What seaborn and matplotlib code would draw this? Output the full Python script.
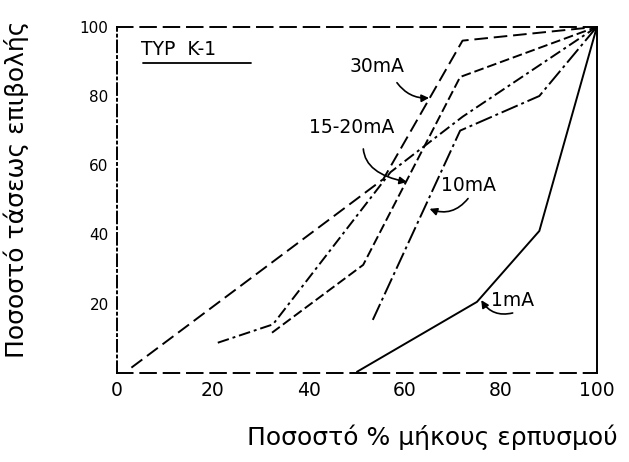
import matplotlib
matplotlib.use("Agg")
import matplotlib.pyplot as plt
import seaborn as sns
import pandas as pd

# percentage of creepage length (x) vs percentage of applied voltage (y)
x_30ma = [3, 55.5, 72, 100]
y_30ma = [1.5, 56, 96, 100]
x_15ma = [21, 32.5, 57, 72, 100]
y_15ma = [8.7, 14, 58, 74, 100]
x_20ma = [32.3, 51.3, 71.5, 100]
y_20ma = [11.6, 31.2, 85.5, 100]
x_10ma = [53.3, 71.5, 88, 100]
y_10ma = [15.3, 70, 80, 100]
x_1ma = [50, 75, 88, 100]
y_1ma = [0.3, 20.5, 41, 100]

curves = {
    "30mA": (x_30ma, y_30ma),
    "15mA": (x_15ma, y_15ma),
    "20mA": (x_20ma, y_20ma),
    "10mA": (x_10ma, y_10ma),
    "1mA": (x_1ma, y_1ma),
}

x_ticks = [0, 20, 40, 60, 80, 100]
y_ticks = [20, 40, 60, 80, 100]

rows = []
for name, (xs, ys) in curves.items():
    for i, (xv, yv) in enumerate(zip(xs, ys)):
        rows.append({"curve": name, "order": i, "x": xv, "y": yv})
df = pd.DataFrame(rows)

sns.set_style("white")
plt.rcParams["font.family"] = ["DejaVu Sans"]
plt.rcParams["text.color"] = "black"
plt.rcParams["xtick.color"] = "black"
plt.rcParams["ytick.color"] = "black"

fig = plt.figure(figsize=(6.29, 4.62), dpi=100)
ax = fig.add_axes([0.186, 0.193, 0.763, 0.749])

dashes = {
    "30mA": (7, 3),
    "15mA": (6, 2, 1.5, 2),
    "20mA": (5, 2),
    "10mA": (9, 2, 1.5, 2),
    "1mA": "",
}
sns.lineplot(data=df, x="x", y="y", hue="curve", style="curve",
             palette=["black"] * 5, dashes=dashes, sort=False,
             estimator=None, legend=False, linewidth=1.4, ax=ax)

ax.set_xlim(0, 100)
ax.set_ylim(0, 100)
ax.set_xticks(x_ticks)
ax.set_xticklabels([str(v) for v in x_ticks], fontsize=13.5)
ax.set_yticks(y_ticks)
ax.set_yticklabels([str(v) for v in y_ticks], fontsize=11)
ax.tick_params(axis="both", length=0, pad=6)
ax.set_xlabel("")
ax.set_ylabel("")

for side in ["top", "bottom"]:
    ax.spines[side].set_linestyle((0, (8, 4)))
ax.spines["left"].set_linestyle((0, (6, 2, 1, 2)))
for side in ax.spines.values():
    side.set_color("black")
    side.set_linewidth(1.4)

# labels and arrows
ax.text(5, 93.5, "TYP  K-1", fontsize=13.5, ha="left", va="center")
ax.plot([5.5, 28], [89.5, 89.5], color="black", lw=1.3)

arrow = dict(arrowstyle="-|>", color="black", lw=1.2, mutation_scale=11)
ax.text(48.5, 88.5, "30mA", fontsize=13.5, ha="left", va="center")
ax.annotate("", xy=(65.6, 79.5), xytext=(58, 84.5),
            arrowprops=dict(arrow, connectionstyle="arc3,rad=0.3"))
ax.text(40, 71, "15-20mA", fontsize=13.5, ha="left", va="center")
ax.annotate("", xy=(61, 55), xytext=(51.3, 65.5),
            arrowprops=dict(arrow, connectionstyle="angle3,angleA=-90,angleB=-10"))
ax.text(67.5, 54, "10mA", fontsize=13.5, ha="left", va="center")
ax.annotate("", xy=(64.6, 47.7), xytext=(73.5, 51),
            arrowprops=dict(arrow, connectionstyle="arc3,rad=-0.4"))
ax.text(78, 21, "1mA", fontsize=13.5, ha="left", va="center")
ax.annotate("", xy=(75.6, 21.7), xytext=(83, 17.5),
            arrowprops=dict(arrow, connectionstyle="arc3,rad=-0.4"))

fig.text(0.026, 0.59, "Ποσοστό τάσεως επιβολής", rotation=90,
         fontsize=18, ha="center", va="center")
fig.text(0.687, 0.054, "Ποσοστό % μήκους ερπυσμού",
         fontsize=18, ha="center", va="center")

fig.savefig("out.png", dpi=100)
